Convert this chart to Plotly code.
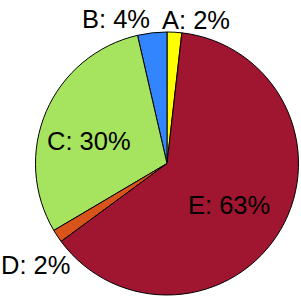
import plotly.graph_objects as go

labels = ["A", "B", "C", "D", "E"]
values = [1.8, 3.6, 29.9, 1.6, 63.1]
colors = ["#FFFF00", "#3385FF", "#A6E35F", "#D9541A", "#A01530"]
# label positions (pixel centres of the text)
label_px = {"A": (196, 19), "B": (116, 18), "C": (89, 140), "D": (35, 264), "E": (229, 204)}

W = H = 301
total = sum(values)
pct = {l: round(v / total * 100) for l, v in zip(labels, values)}
FONT = dict(family="Liberation Sans, Arial, sans-serif", size=25.5, color="black")

fig = go.Figure(go.Pie(
    labels=labels,
    values=values,
    sort=False,
    direction="counterclockwise",
    rotation=0,
    marker=dict(colors=colors, line=dict(color="black", width=1)),
    textinfo="none",
    showlegend=False,
    domain=dict(x=[35.5 / W, 298.5 / W], y=[1 - 295 / H, 1 - 32 / H]),
    hoverinfo="none",
))

for lab in labels:
    px, py = label_px[lab]
    fig.add_annotation(
        x=px / W, y=1 - (py + 1) / H, xref="paper", yref="paper",
        text=f"{lab}: {pct[lab]}%", showarrow=False,
        xanchor="center", yanchor="middle",
        font=FONT,
    )

fig.update_layout(
    width=W, height=H,
    margin=dict(l=0, r=0, t=0, b=0),
    paper_bgcolor="white",
    plot_bgcolor="white",
)
fig.write_html(
    "out.html",
    config={"displayModeBar": False},
    post_script="document.body.style.margin='0';document.body.style.overflow='hidden';",
)
